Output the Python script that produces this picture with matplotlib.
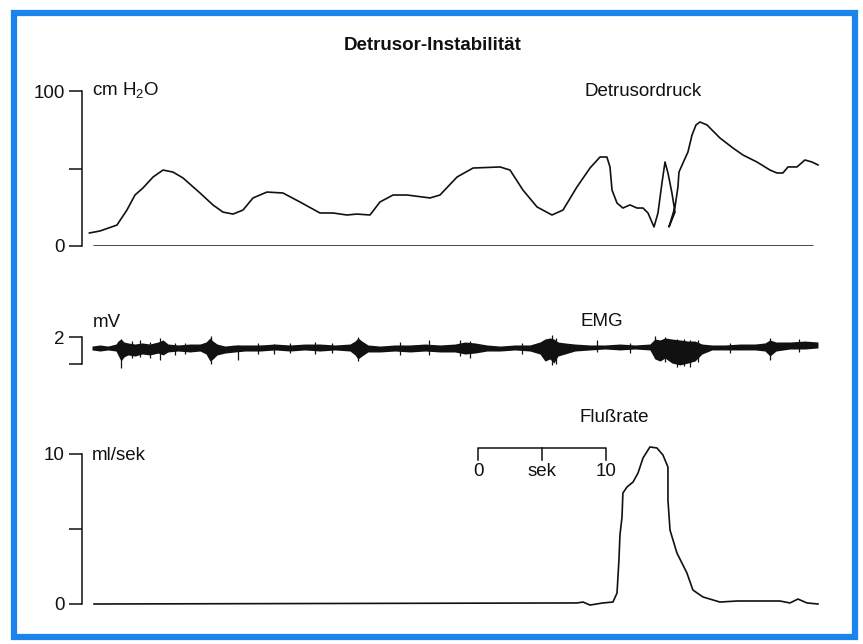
import matplotlib
matplotlib.use('Agg')
import matplotlib.pyplot as plt
from matplotlib.patches import Rectangle

plt.rcParams['font.family'] = ['Liberation Sans', 'DejaVu Sans']

# time axis in seconds (0 = start of trace)
# Detrusordruck, cm H2O
pressure_t = [-0.2, 0.63, 1.95, 2.73, 3.36, 3.98, 4.77, 5.55, 6.33, 7.11,
              8.44, 9.45, 10.23, 11.02, 11.80, 12.58, 13.67, 14.92, 16.25, 17.81,
              18.83, 19.92, 20.70, 21.72, 22.5, 23.52, 24.61, 26.41, 27.19, 28.52,
              29.77, 31.88, 32.66, 33.67, 34.77, 35.94, 36.80, 37.89, 38.91, 39.69,
              40.23, 40.47, 40.63, 41.02, 41.48, 42.03, 42.58, 43.05, 43.44, 43.91,
              44.22, 44.53, 44.77, 45.0, 45.31, 45.55, 45.08, 45.55, 45.78, 45.86,
              46.17, 46.56, 46.88, 47.19, 47.5, 48.05, 49.06, 50.08, 50.86, 51.95,
              52.97, 53.52, 53.98, 54.38, 55.08, 55.70, 56.25, 56.72]
pressure_cmh2o = [8.4, 9.7, 13.5, 23.2, 32.9, 37.4, 44.5, 49.0, 47.7, 43.9,
                  34.2, 26.5, 21.9, 20.6, 23.2, 31.0, 34.8, 34.2, 28.4, 21.3,
                  21.3, 20.0, 20.6, 20.0, 28.4, 32.9, 32.9, 31.0, 32.9, 44.5,
                  50.3, 51.0, 49.0, 36.1, 25.2, 20.0, 23.2, 38.1, 50.3, 57.4,
                  57.4, 51.0, 36.1, 27.7, 24.5, 26.5, 24.5, 24.5, 21.3, 12.3,
                  21.3, 40.6, 54.2, 47.1, 34.2, 21.9, 12.3, 25.2, 38.1, 47.7,
                  53.5, 60.6, 71.6, 78.1, 80.0, 78.1, 69.7, 63.2, 58.7, 54.2,
                  49.0, 47.1, 47.1, 51.0, 51.0, 55.5, 54.2, 52.3]
pressure_zero = (0.08, 56.33)

# EMG, envelope of the trace in mV
emg_t = [0.0, 0.63, 1.25, 1.88, 2.03, 2.27, 2.5, 2.81, 3.36, 3.91,
         4.53, 5.16, 5.55, 5.94, 6.72, 7.66, 8.44, 8.91, 9.22, 9.45,
         9.77, 10.39, 11.17, 11.95, 13.13, 14.30, 15.47, 16.64, 17.81, 18.98,
         20.16, 20.55, 20.78, 21.09, 21.56, 22.5, 23.67, 24.84, 26.02, 27.19,
         28.36, 29.14, 29.92, 30.86, 31.88, 33.05, 34.22, 35.0, 35.39, 35.78,
         36.09, 36.41, 36.95, 37.73, 38.91, 40.08, 41.25, 42.42, 43.59, 43.98,
         44.38, 44.77, 45.31, 45.94, 46.56, 47.11, 47.66, 48.44, 49.45, 50.63,
         51.80, 52.58, 52.97, 53.44, 54.53, 55.70, 56.72]
emg_upper = [0.33, 0.41, 0.33, 0.48, 0.70, 0.85, 0.63, 0.56, 0.48, 0.56,
             0.48, 0.63, 0.78, 0.48, 0.41, 0.48, 0.48, 0.63, 0.93, 0.70,
             0.48, 0.33, 0.41, 0.41, 0.41, 0.48, 0.41, 0.48, 0.48, 0.41,
             0.48, 0.70, 0.93, 0.70, 0.41, 0.33, 0.41, 0.41, 0.48, 0.41,
             0.48, 0.63, 0.56, 0.41, 0.33, 0.41, 0.41, 0.63, 0.85, 0.93,
             0.85, 0.63, 0.56, 0.48, 0.41, 0.41, 0.48, 0.41, 0.48, 0.85,
             0.78, 0.93, 0.85, 0.78, 0.70, 0.70, 0.48, 0.41, 0.41, 0.48,
             0.48, 0.56, 0.78, 0.63, 0.63, 0.70, 0.63]
emg_lower = [0.04, -0.04, 0.04, -0.04, -0.33, -0.78, -0.48, -0.33, -0.41, -0.26,
             -0.33, -0.19, -0.33, -0.11, -0.04, -0.11, -0.04, -0.26, -0.78, -0.63,
             -0.33, -0.19, -0.11, -0.04, -0.04, 0.04, -0.04, 0.04, -0.04, 0.04,
             -0.04, -0.33, -0.63, -0.41, -0.11, -0.11, -0.04, -0.11, -0.04, -0.11,
             -0.11, -0.26, -0.19, -0.04, -0.04, 0.04, -0.04, -0.26, -0.78, -0.63,
             -0.93, -0.41, -0.26, -0.04, 0.04, 0.11, 0.04, 0.11, 0.04, -0.63,
             -0.78, -0.56, -0.93, -1.07, -0.93, -0.78, -0.26, 0.04, 0.04, 0.04,
             0.04, -0.04, -0.41, -0.04, 0.11, 0.11, 0.19]
# single deflections on top of the envelope
spike_t = [2.27, 5.31, 9.30, 11.41, 20.78, 26.33, 29.53, 35.94, 36.25,
           39.45, 43.98, 44.77, 45.70, 46.25, 46.72, 47.34, 52.97,
           3.13, 3.75, 4.53, 6.48, 7.27, 12.97, 14.22, 15.47, 17.42, 18.75,
           24.06, 28.75, 33.59, 42.03, 49.84, 55.23]
spike_top = [0.85, 0.93, 1.07, 0.41, 1.0, 0.78, 0.70, 1.15, 0.93,
             0.78, 1.07, 1.0, 0.85, 0.85, 0.78, 0.78, 0.93,
             0.70, 0.78, 0.63, 0.56, 0.56, 0.56, 0.48, 0.56, 0.63, 0.56,
             0.63, 0.78, 0.56, 0.56, 0.56, 0.85]
spike_bottom = [-1.30, -0.70, -1.0, -0.70, -0.78, -0.33, -0.56, -1.07, -1.0,
                -0.11, -0.56, -0.85, -1.22, -1.15, -1.22, -0.85, -0.70,
                -0.56, -0.48, -0.56, -0.33, -0.26, -0.26, -0.26, -0.19, -0.26, -0.19,
                -0.33, -0.41, -0.26, -0.19, -0.19, -0.11]

# Flussrate, ml/sek
flow_t = [0.16, 37.89, 38.36, 38.91, 39.92, 40.70, 41.02, 41.17, 41.25, 41.41,
          41.48, 41.80, 42.27, 42.66, 43.05, 43.59, 44.14, 44.61, 45.0, 45.0,
          45.16, 45.70, 46.48, 46.95, 47.73, 49.06, 50.39, 51.95, 53.75, 54.53,
          55.16, 55.86, 56.72]
flow_mls = [0.0, 0.07, 0.13, -0.07, 0.07, 0.13, 0.73, 2.93, 4.6, 5.8,
            7.4, 7.8, 8.13, 8.73, 9.73, 10.47, 10.4, 9.93, 9.13, 6.93,
            4.93, 3.4, 2.07, 0.93, 0.47, 0.13, 0.2, 0.2, 0.2, 0.07,
            0.33, 0.07, 0.0]

# 10 s scale bar
bar_start, bar_len = 30.16, 10.0

W, H = 863, 644
XLIM = (-0.78, 57.66)
INK = '#111111'
FS = 13.5


def panel(top_px, bottom_px):
    ax = fig.add_axes([82 / W, 1 - bottom_px / H, (830 - 82) / W, (bottom_px - top_px) / H])
    ax.set_xlim(*XLIM)
    for side in ['top', 'right', 'bottom']:
        ax.spines[side].set_visible(False)
    ax.spines['left'].set_linewidth(1.1)
    ax.spines['left'].set_color(INK)
    ax.set_xticks([])
    ax.tick_params(axis='y', length=9.4, width=1.1, pad=3, labelsize=FS, colors=INK)
    ax.patch.set_visible(False)
    return ax


fig = plt.figure(figsize=(W / 100, H / 100), dpi=100)

fig.text(433 / W, 1 - 45 / H, 'Detrusor-Instabilität', ha='center', va='center',
         fontsize=13.5, fontweight='bold', color=INK)

# pressure
ax1 = panel(91, 246)
ax1.set_ylim(0, 100)
ax1.spines['left'].set_bounds(0, 100)
ax1.set_yticks([0, 50, 100])
ax1.set_yticklabels(['0', '', '100'])
ax1.hlines(0, *pressure_zero, color=INK, lw=1.8)
ax1.plot(pressure_t, pressure_cmh2o, color=INK, lw=1.2, clip_on=False)
ax1.text(0, 100, 'cm H$_\\mathregular{2}$O', ha='left', va='center', fontsize=FS, color=INK)
ax1.text(43.05, 100, 'Detrusordruck', ha='center', va='center', fontsize=FS, color=INK)

# EMG
ax2 = panel(330.25, 370.75)
ax2.set_ylim(-1.5, 1.5)
ax2.spines['left'].set_bounds(-1, 1)
ax2.set_yticks([-1, 1])
ax2.set_yticklabels(['', '2'])
ax2.fill_between(emg_t, emg_lower, emg_upper, color=INK, lw=0)
ax2.vlines(spike_t, spike_bottom, spike_top, color=INK, lw=0.9)
ax2.text(0.05, 2.07, 'mV', ha='left', va='center', fontsize=FS, color=INK)
ax2.text(39.84, 2.15, 'EMG', ha='center', va='center', fontsize=FS, color=INK)

# flow
ax3 = panel(454, 604)
ax3.set_ylim(0, 10)
ax3.spines['left'].set_bounds(0, 10)
ax3.set_yticks([0, 5, 10])
ax3.set_yticklabels(['0', '', '10'])
ax3.plot(flow_t, flow_mls, color=INK, lw=1.2, clip_on=False)
ax3.text(0, 9.93, 'ml/sek', ha='left', va='center', fontsize=FS, color=INK)
ax3.text(40.8, 12.4, 'Flußrate', ha='center', va='center', fontsize=FS, color=INK)

bar_end = bar_start + bar_len
bar_mid = bar_start + bar_len / 2
ax3.plot([bar_start, bar_start, bar_end, bar_end], [9.6, 10.4, 10.4, 9.6],
         color=INK, lw=1.1, clip_on=False)
ax3.plot([bar_mid, bar_mid], [9.6, 10.4], color=INK, lw=1.1, clip_on=False)
ax3.text(bar_start, 8.85, '0', ha='center', va='center', fontsize=FS, color=INK)
ax3.text(bar_mid, 8.85, 'sek', ha='center', va='center', fontsize=FS, color=INK)
ax3.text(bar_end, 8.85, '10', ha='center', va='center', fontsize=FS, color=INK)

# blue frame of the figure
fig.add_artist(Rectangle((14 / W, 1 - 637 / H), (855 - 14) / W, (637 - 13) / H,
                         transform=fig.transFigure, fill=False, ec='#1a84ec', lw=4.5))

fig.savefig('out.png', dpi=100)
